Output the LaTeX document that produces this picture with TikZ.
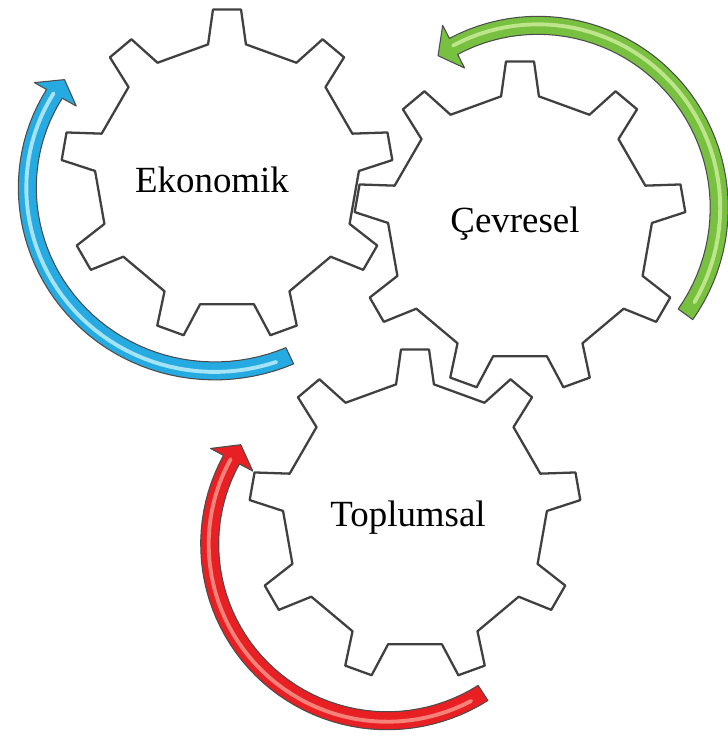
\documentclass[tikz,border=0pt]{standalone}
\usepackage{fontspec}
\setmainfont{Liberation Serif}
\usepackage{tikz}

\definecolor{arrowblue}{RGB}{38,170,226}
\definecolor{lightblue}{RGB}{165,228,246}
\definecolor{arrowgreen}{RGB}{120,192,64}
\definecolor{lightgreen}{RGB}{190,228,140}
\definecolor{arrowred}{RGB}{232,32,36}
\definecolor{lightred}{RGB}{246,130,122}

\tikzset{
	gear/.style={draw=black!75,line width=1.3pt,fill=white,line join=round},
	arrowline/.style={draw=black!70,line width=0.6pt,line join=round},
	gearname/.style={font=\fontsize{21}{25}\selectfont,anchor=base}
}

% gear with 9 teeth, #1 = centre
\newcommand{\gearshape}[1]{%
	\draw[gear,shift={#1}] (81.75:132) \foreach \a in {90,130,...,410} {
		-- (\a-8.25:132) -- (\a-4.85:166) -- (\a+4.85:166) -- (\a+8.25:132)} -- cycle;}

% curved arrow: centre x, centre y, tail angle, tail radius, tip angle, tip radius, fill, light
\newcommand{\turnarrow}[8]{%
	\pgfmathsetmacro{\hb}{#5+(#5>#3 ? -5.8 : 5.8)}
	\pgfmathsetmacro{\k}{(#6-#4)/(#5-(#3))}
	\begin{scope}[shift={(#1,#2)}]
		\filldraw[arrowline,fill=#7]
			plot[domain=#3:\hb,samples=50] ({cos(\x)*(#4+\k*(\x-(#3))+9)},{sin(\x)*(#4+\k*(\x-(#3))+9)})
			-- (\hb:#6+24) -- (#5:#6) -- (\hb:#6-24)
			-- plot[domain=\hb:#3,samples=50] ({cos(\x)*(#4+\k*(\x-(#3))-9)},{sin(\x)*(#4+\k*(\x-(#3))-9)})
			-- cycle;
		\draw[#8,line width=2.2pt,line cap=round]
			plot[domain=#3+(\hb-(#3))*0.03:\hb,samples=50] ({cos(\x)*(#4+\k*(\x-(#3))+1)},{sin(\x)*(#4+\k*(\x-(#3))+1)});
	\end{scope}}

\begin{document}
\begin{tikzpicture}[x=0.02cm,y=0.02cm]
	\useasboundingbox (0,0) rectangle (727,743);
	\gearshape{(227,568)}
	\gearshape{(520,516)}
	\gearshape{(415,228)}
	\node[gearname] (eko) at (212,550) {Ekonomik};
	\node[gearname] (cev) at (515,510) {Çevresel};
	\node[gearname] (top) at (408,216) {Toplumsal};
	\turnarrow{205}{565}{-64.5}{197}{-215}{171.5}{arrowblue}{lightblue}
	\turnarrow{535}{538}{-36}{186}{123}{178}{arrowgreen}{lightgreen}
	\turnarrow{385}{201}{-57}{180}{-214}{174}{arrowred}{lightred}
\end{tikzpicture}
\end{document}
